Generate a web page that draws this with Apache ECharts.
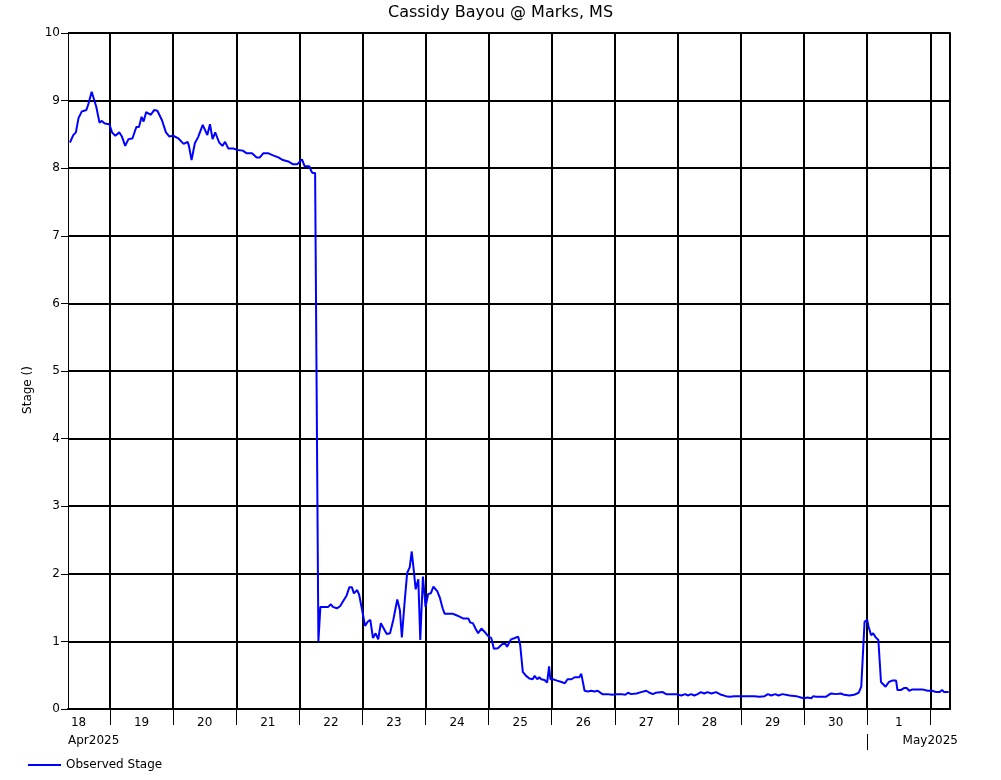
<!DOCTYPE html>
<html><head><meta charset="utf-8">
<script src="https://cdn.jsdelivr.net/npm/echarts@6/dist/echarts.min.js"></script>
<style>html,body{margin:0;padding:0;background:#fff}#c{width:1001px;height:780px}</style>
</head><body><div id="c"></div>
<script>
const chartTitle = 'Cassidy Bayou @ Marks, MS';
const yAxisName = 'Stage ()';
const seriesName = 'Observed Stage';
const axisStart = '2025-04-18 08:00';
const axisEnd = '2025-05-02 07:30';
const yTicks = [0, 10, 1]; // min, max, step
const dayTickTimes = ['2025-04-19 00:00','2025-04-20 00:00','2025-04-21 00:00','2025-04-22 00:00','2025-04-23 00:00','2025-04-24 00:00','2025-04-25 00:00','2025-04-26 00:00','2025-04-27 00:00','2025-04-28 00:00','2025-04-29 00:00','2025-04-30 00:00','2025-05-01 00:00','2025-05-02 00:00'];
const dayLabelTimes = ['2025-04-18 12:00','2025-04-19 12:00','2025-04-20 12:00','2025-04-21 12:00','2025-04-22 12:00','2025-04-23 12:00','2025-04-24 12:00','2025-04-25 12:00','2025-04-26 12:00','2025-04-27 12:00','2025-04-28 12:00','2025-04-29 12:00','2025-04-30 12:00','2025-05-01 12:00'];
const monthLabelTimes = ['2025-04-18 17:45','2025-05-02 00:00'];
const monthLabels = ['Apr2025','May2025'];
const monthBoundaryTimes = ['2025-05-01 00:00'];

const obsTimes = [
'2025-04-18 08:45','2025-04-18 10:00','2025-04-18 11:00','2025-04-18 12:00','2025-04-18 13:15','2025-04-18 15:00','2025-04-18 15:45','2025-04-18 17:00','2025-04-18 18:45','2025-04-18 20:00','2025-04-18 20:45','2025-04-18 22:00','2025-04-18 23:45',
'2025-04-19 00:45','2025-04-19 02:00','2025-04-19 03:30','2025-04-19 04:30','2025-04-19 05:45','2025-04-19 07:00','2025-04-19 08:30','2025-04-19 10:00','2025-04-19 11:00','2025-04-19 12:00','2025-04-19 12:45','2025-04-19 13:45','2025-04-19 15:30','2025-04-19 16:45','2025-04-19 18:00','2025-04-19 19:45','2025-04-19 21:15','2025-04-19 22:30',
'2025-04-20 00:00','2025-04-20 02:00','2025-04-20 02:45','2025-04-20 04:00','2025-04-20 05:30','2025-04-20 06:00','2025-04-20 07:00','2025-04-20 08:15','2025-04-20 09:30','2025-04-20 11:15','2025-04-20 13:00','2025-04-20 14:00','2025-04-20 15:00','2025-04-20 16:00','2025-04-20 17:30','2025-04-20 18:45','2025-04-20 19:45','2025-04-20 21:00','2025-04-20 23:00',
'2025-04-21 00:30','2025-04-21 02:30','2025-04-21 04:00','2025-04-21 06:00','2025-04-21 07:45','2025-04-21 09:00','2025-04-21 10:15','2025-04-21 12:15','2025-04-21 14:00','2025-04-21 16:00','2025-04-21 17:45','2025-04-21 19:45','2025-04-21 21:30','2025-04-21 23:15',
'2025-04-22 00:00','2025-04-22 01:00','2025-04-22 02:00','2025-04-22 03:45','2025-04-22 04:30','2025-04-22 05:00','2025-04-22 06:00','2025-04-22 07:15','2025-04-22 08:00','2025-04-22 09:45','2025-04-22 11:00','2025-04-22 12:00','2025-04-22 12:45','2025-04-22 14:15','2025-04-22 15:30','2025-04-22 16:45','2025-04-22 18:00','2025-04-22 19:00','2025-04-22 20:00','2025-04-22 20:45','2025-04-22 22:00','2025-04-22 22:45','2025-04-22 23:45',
'2025-04-23 01:00','2025-04-23 02:00','2025-04-23 03:00','2025-04-23 04:00','2025-04-23 05:00','2025-04-23 06:00','2025-04-23 07:00','2025-04-23 07:45','2025-04-23 09:15','2025-04-23 10:30','2025-04-23 11:45','2025-04-23 13:15','2025-04-23 14:15','2025-04-23 15:00','2025-04-23 16:00','2025-04-23 17:00','2025-04-23 18:00','2025-04-23 18:45','2025-04-23 19:30','2025-04-23 20:15','2025-04-23 21:15','2025-04-23 22:00','2025-04-23 23:00',
'2025-04-24 00:00','2025-04-24 01:00','2025-04-24 02:00','2025-04-24 03:00','2025-04-24 04:30','2025-04-24 05:30','2025-04-24 06:30','2025-04-24 07:15','2025-04-24 08:30','2025-04-24 10:15','2025-04-24 11:30','2025-04-24 12:45','2025-04-24 14:15','2025-04-24 16:15','2025-04-24 17:00','2025-04-24 18:00','2025-04-24 19:00','2025-04-24 20:00','2025-04-24 21:15','2025-04-24 22:30','2025-04-24 23:45',
'2025-04-25 01:00','2025-04-25 02:00','2025-04-25 03:30','2025-04-25 05:15','2025-04-25 06:30','2025-04-25 07:00','2025-04-25 08:30','2025-04-25 10:00','2025-04-25 11:15','2025-04-25 12:00','2025-04-25 13:00','2025-04-25 14:15','2025-04-25 15:30','2025-04-25 16:45','2025-04-25 17:30','2025-04-25 18:30','2025-04-25 19:15','2025-04-25 20:00','2025-04-25 21:15','2025-04-25 22:15','2025-04-25 23:00','2025-04-25 23:30',
'2025-04-26 00:30','2025-04-26 02:00','2025-04-26 03:45','2025-04-26 05:00','2025-04-26 06:00','2025-04-26 07:30','2025-04-26 08:45','2025-04-26 09:30','2025-04-26 10:30','2025-04-26 11:15','2025-04-26 12:30','2025-04-26 13:45','2025-04-26 15:00','2025-04-26 16:15','2025-04-26 17:30','2025-04-26 19:15','2025-04-26 21:15','2025-04-26 23:00',
'2025-04-27 00:30','2025-04-27 02:30','2025-04-27 04:00','2025-04-27 05:00','2025-04-27 06:15','2025-04-27 08:15','2025-04-27 10:00','2025-04-27 12:00','2025-04-27 13:15','2025-04-27 14:30','2025-04-27 15:30','2025-04-27 16:15','2025-04-27 18:15','2025-04-27 19:30','2025-04-27 20:45','2025-04-27 23:15',
'2025-04-28 01:15','2025-04-28 02:45','2025-04-28 03:45','2025-04-28 05:00','2025-04-28 06:15','2025-04-28 07:30','2025-04-28 08:45','2025-04-28 10:00','2025-04-28 11:15','2025-04-28 12:45','2025-04-28 14:30','2025-04-28 16:30','2025-04-28 18:15','2025-04-28 19:45','2025-04-28 21:30',
'2025-04-29 00:00','2025-04-29 02:30','2025-04-29 05:00','2025-04-29 07:00','2025-04-29 09:00','2025-04-29 10:15','2025-04-29 11:30','2025-04-29 13:00','2025-04-29 14:15','2025-04-29 15:45','2025-04-29 16:30','2025-04-29 18:30','2025-04-29 21:00','2025-04-29 22:45',
'2025-04-30 00:00','2025-04-30 01:15','2025-04-30 02:45','2025-04-30 03:30','2025-04-30 04:30','2025-04-30 06:30','2025-04-30 08:15','2025-04-30 10:15','2025-04-30 12:15','2025-04-30 14:00','2025-04-30 15:15','2025-04-30 17:15','2025-04-30 19:00','2025-04-30 20:45','2025-04-30 21:45','2025-04-30 23:00',
'2025-05-01 00:00','2025-05-01 00:30','2025-05-01 01:30','2025-05-01 02:15','2025-05-01 03:15','2025-05-01 04:15','2025-05-01 05:15','2025-05-01 06:00','2025-05-01 07:00','2025-05-01 08:15','2025-05-01 09:30','2025-05-01 11:00','2025-05-01 11:30','2025-05-01 12:45','2025-05-01 14:00','2025-05-01 15:00','2025-05-01 16:00','2025-05-01 17:15','2025-05-01 19:15','2025-05-01 21:00','2025-05-01 23:00',
'2025-05-02 00:45','2025-05-02 02:15','2025-05-02 03:30','2025-05-02 04:30','2025-05-02 05:15','2025-05-02 07:00'
];
const obsStage = [
8.38,8.49,8.53,8.74,8.84,8.86,8.95,9.13,8.91,8.67,8.70,8.66,8.65,
8.53,8.48,8.53,8.47,8.33,8.43,8.44,8.61,8.61,8.76,8.69,8.83,8.79,8.86,8.85,8.71,8.53,8.47,
8.48,8.44,8.44,8.36,8.39,8.33,8.12,8.37,8.46,8.64,8.49,8.65,8.43,8.53,8.38,8.33,8.39,8.29,8.29,
8.27,8.26,8.22,8.22,8.16,8.16,8.22,8.22,8.19,8.16,8.12,8.10,8.06,8.06,
8.08,8.13,8.03,8.03,7.96,7.93,7.93,1.00,1.51,1.51,1.51,1.55,1.51,1.49,1.52,1.60,1.68,1.80,1.80,1.71,1.76,1.69,1.49,
1.23,1.29,1.32,1.05,1.12,1.03,1.27,1.27,1.11,1.12,1.32,1.62,1.46,1.06,1.56,2.01,2.10,2.33,2.06,1.77,1.92,1.02,1.96,
1.51,1.70,1.71,1.81,1.74,1.64,1.49,1.41,1.41,1.41,1.39,1.37,1.34,1.34,1.28,1.27,1.19,1.12,1.19,1.14,1.08,
1.05,0.89,0.90,0.96,0.96,0.92,1.03,1.05,1.07,0.95,0.55,0.49,0.45,0.44,0.49,0.44,0.47,0.44,0.43,0.39,0.63,0.44,
0.44,0.42,0.40,0.38,0.44,0.44,0.47,0.49,0.47,0.52,0.27,0.26,0.27,0.26,0.27,0.22,0.22,0.21,
0.22,0.22,0.21,0.24,0.22,0.23,0.25,0.27,0.24,0.22,0.24,0.22,0.25,0.22,0.22,0.22,
0.20,0.22,0.20,0.22,0.20,0.22,0.25,0.23,0.25,0.23,0.25,0.21,0.19,0.18,0.19,
0.19,0.19,0.19,0.18,0.19,0.22,0.20,0.22,0.20,0.22,0.20,0.20,0.19,0.17,
0.16,0.17,0.16,0.19,0.18,0.18,0.18,0.23,0.22,0.23,0.21,0.20,0.21,0.24,0.33,1.29,
1.32,1.22,1.09,1.12,1.06,1.02,0.40,0.39,0.33,0.40,0.42,0.42,0.28,0.28,0.31,0.31,0.27,0.29,0.29,0.29,0.27,
0.27,0.25,0.25,0.28,0.25,0.25
];

const toMs = s => new Date(s.replace(' ', 'T')).getTime();
const xMin = toMs(axisStart), xMax = toMs(axisEnd);
const monthMs = monthLabelTimes.map(toMs);
const FONT = 'DejaVu Sans';

const chart = echarts.init(document.getElementById('c'), null, {renderer: 'canvas'});
chart.setOption({
  animation: false,
  backgroundColor: '#ffffff',
  textStyle: {fontFamily: FONT},
  title: {
    text: chartTitle, left: 'center', top: 5, padding: 0,
    textStyle: {fontFamily: FONT, fontSize: 16, fontWeight: 'normal', color: '#000'}
  },
  legend: {
    left: 28, top: 759, padding: 0, itemWidth: 33, itemHeight: 2,
    data: [{name: seriesName, icon: 'rect'}],
    textStyle: {fontFamily: FONT, fontSize: 12, color: '#000'}
  },
  grid: {left: 68, right: 51, top: 33, bottom: 71},
  xAxis: [
    {
      type: 'value', min: xMin, max: xMax, scale: true,
      axisLine: {show: true, onZero: false, lineStyle: {color: '#000', width: 2}},
      axisTick: {show: true, customValues: dayTickTimes.map(toMs), length: 16, inside: false, lineStyle: {color: '#000', width: 1}},
      axisLabel: {customValues: dayLabelTimes.map(toMs), formatter: v => String(new Date(v).getDate()), margin: 8, color: '#000', fontSize: 12, fontFamily: FONT},
      splitLine: {show: true, lineStyle: {color: '#000', width: 2}}
    },
    {
      type: 'value', min: xMin, max: xMax, scale: true, position: 'bottom', offset: 25,
      axisLine: {show: false, onZero: false},
      axisTick: {show: true, customValues: monthBoundaryTimes.map(toMs), length: 16, inside: false, lineStyle: {color: '#000', width: 1}},
      axisLabel: {
        customValues: monthMs,
        formatter: v => {
          let best = 0;
          monthMs.forEach((m, i) => { if (Math.abs(m - v) < Math.abs(monthMs[best] - v)) best = i; });
          return monthLabels[best];
        },
        margin: 1, color: '#000', fontSize: 12, fontFamily: FONT
      },
      splitLine: {show: false}
    }
  ],
  yAxis: [
    {
      type: 'value', min: yTicks[0], max: yTicks[1], interval: yTicks[2],
      name: yAxisName, nameLocation: 'middle', nameGap: 34,
      nameTextStyle: {fontFamily: FONT, fontSize: 12, color: '#000', padding: [0, 38, 0, 0]},
      axisLine: {show: true, lineStyle: {color: '#000', width: 1}},
      axisTick: {show: true, length: 7, lineStyle: {color: '#000', width: 1}},
      axisLabel: {margin: 8, color: '#000', fontSize: 12, fontFamily: FONT},
      splitLine: {show: true, lineStyle: {color: '#000', width: 2}}
    },
    {
      type: 'value', min: yTicks[0], max: yTicks[1], interval: yTicks[2], position: 'right',
      axisLine: {show: true, lineStyle: {color: '#000', width: 2}},
      axisTick: {show: false}, axisLabel: {show: false}, splitLine: {show: false}
    }
  ],
  series: [{
    name: seriesName, type: 'line', xAxisIndex: 0, yAxisIndex: 0,
    data: obsTimes.map((t, i) => [toMs(t), obsStage[i]]),
    showSymbol: false, symbol: 'none',
    lineStyle: {color: '#0000ff', width: 2},
    itemStyle: {color: '#0000ff'}
  }]
});
</script>
</body></html>
